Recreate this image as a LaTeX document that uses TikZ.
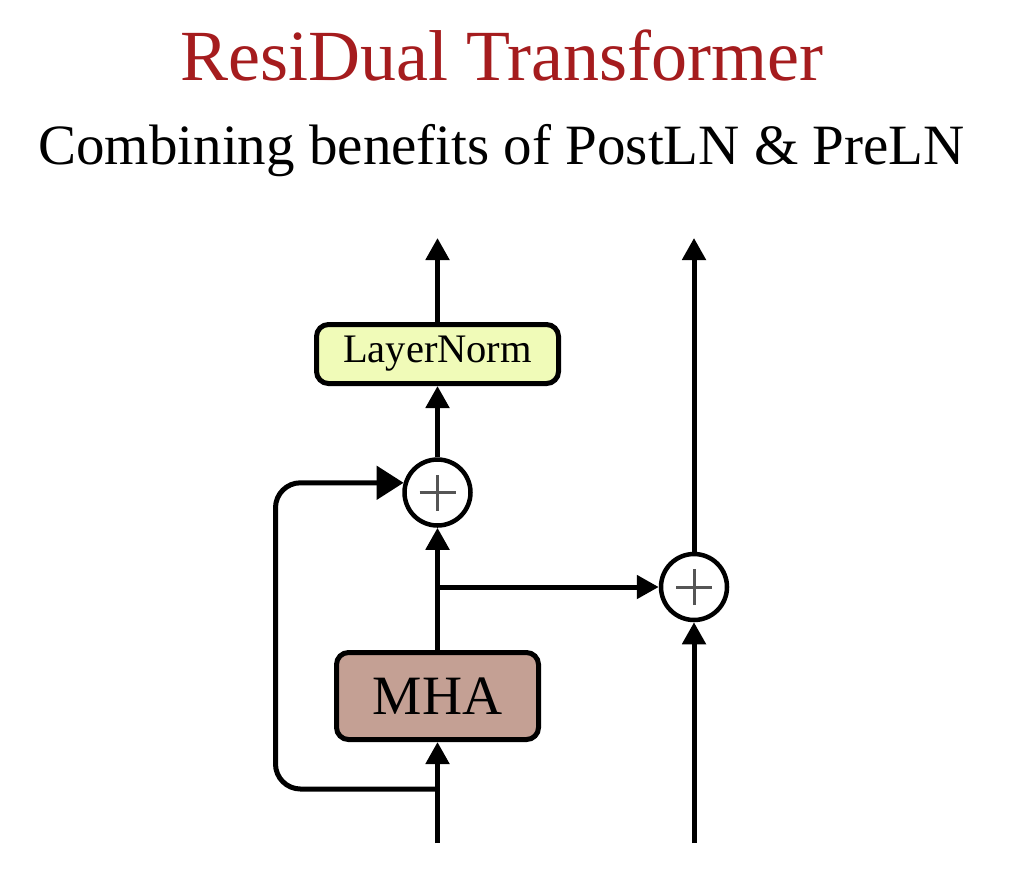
\documentclass[tikz,border=0pt]{standalone}
\usepackage{fontspec}
\setmainfont{Liberation Serif}
\usetikzlibrary{arrows.meta}
\definecolor{titlered}{RGB}{165,28,30}
\definecolor{lnfill}{RGB}{240,251,184}
\definecolor{mhafill}{RGB}{196,160,148}
\definecolor{plusgray}{RGB}{85,85,85}
\tikzset{
  flow/.style={line width=5pt, -{Triangle[length=22pt,width=23pt]}},
  bigflow/.style={line width=5pt, -{Triangle[length=27pt,width=33pt]}},
  blockbox/.style={draw, line width=5pt, rounded corners=12pt, inner sep=0pt, align=center},
  addcircle/.style={draw, circle, line width=4.5pt, minimum size=66pt, inner sep=0pt, fill=white},
}
\newcommand{\drawplus}[1]{%
  \draw[plusgray, line width=3pt] ([xshift=-18pt]#1.center) -- ([xshift=18pt]#1.center);
  \draw[plusgray, line width=3pt] ([yshift=-18pt]#1.center) -- ([yshift=18pt]#1.center);}
\begin{document}
\begin{tikzpicture}[x=1pt,y=-1pt]
\useasboundingbox (0,0) rectangle (1014,879);
% titles
\node[anchor=base, text=titlered, font=\fontsize{72}{80}\selectfont, inner sep=0pt] (title) at (502,80) {ResiDual Transformer};
\node[anchor=base, font=\fontsize{57}{64}\selectfont, inner sep=0pt] (subtitle) at (501.5,164) {Combining benefits of PostLN \& PreLN};
% blocks
\node[blockbox, fill=lnfill, minimum width=242pt, minimum height=59pt, font=\fontsize{40.5}{44}\selectfont] (ln) at (437.5,354) {LayerNorm};
\node[blockbox, fill=mhafill, minimum width=202pt, minimum height=87pt, font=\fontsize{55.5}{60}\selectfont] (mha) at (437.5,696) {MHA};
\node[addcircle] (add1) at (437.5,492.5) {};
\node[addcircle] (add2) at (694,587) {};
\drawplus{add1}
\drawplus{add2}
% coordinates
\coordinate (inL) at (437.5,843);
\coordinate (inR) at (694,843);
\coordinate (outL) at (437.5,238);
\coordinate (outR) at (694,238);
\coordinate (split) at (437.5,789);
\coordinate (branch) at (437.5,587);
\coordinate (loopx) at (275.5,0);
% left column
\draw[flow] (inL) -- (mha.south);
\draw[flow] (mha.north) -- (add1.south);
\draw[flow] (add1.north) -- (ln.south);
\draw[flow] (ln.north) -- (outL);
% residual loop
\draw[bigflow, rounded corners=25pt] (split) -- (split -| loopx) -- (loopx |- add1.164) -- (add1.164);
% branch to right
\draw[flow] (branch) -- (add2.west);
% right column
\draw[flow] (inR) -- (add2.south);
\draw[flow] (add2.north) -- (outR);
\end{tikzpicture}
\end{document}
